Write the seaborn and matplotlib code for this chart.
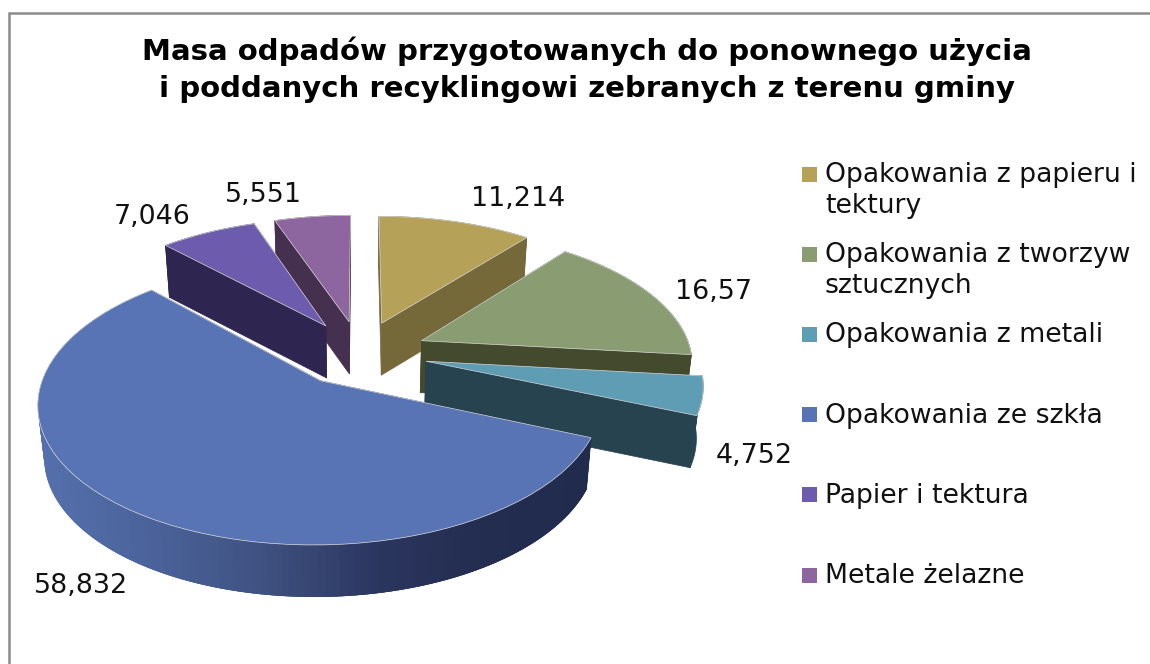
import numpy as np
import seaborn as sns
import matplotlib.pyplot as plt
import matplotlib.transforms as mtransforms
from matplotlib.patches import Rectangle

# dane z wykresu
categories = ["Opakowania z papieru i\ntektury", "Opakowania z tworzyw\nsztucznych", "Opakowania z metali",
              "Opakowania ze szkła", "Papier i tektura", "Metale żelazne"]
values = [11.214, 16.57, 4.752, 58.832, 7.046, 5.551]
value_labels = ["11,214", "16,57", "4,752", "58,832", "7,046", "5,551"]
title = "Masa odpadów przygotowanych do ponownego użycia\ni poddanych recyklingowi zebranych z terenu gminy"

top_colors = ["#B5A158", "#8A9C72", "#5F9DB5", "#5874B4", "#6D5BAD", "#8D669F"]
side_colors = ["#75693A", "#434A2E", "#26434F", "#2A3763", "#2E2650", "#45304F"]
blue_side = ["#5470AC", "#4A629A", "#3F5180", "#2B3660", "#232D50", "#212B4E"]

label_xy = [(518, 199), (713, 292), (754, 456), (81, 586), (152, 217), (263, 195)]

# geometria "3D"
EXPLODE = 0.25
CX, CY = 360, 353
F, HF, D = 1825, 884, 6.76
DEPTH = 52
SHRINK = 0.98  # dol bryly lekko zbiega do srodka

sns.set_theme(style="white")
plt.rcParams['font.family'] = ['DejaVu Sans']


def project(x, y):
    d = D + y
    return CX + F * x / d, CY - HF * y / d


def low(x):
    return CX + (x - CX) * SHRINK


class Tilt(mtransforms.Transform):
    input_dims = 2
    output_dims = 2
    has_inverse = False

    def transform_non_affine(self, values):
        xy = np.asarray(values)
        px, py = project(xy[:, 0], xy[:, 1])
        return np.column_stack([px, py])


fig = plt.figure(figsize=(11.5, 6.64), dpi=100)
ax = fig.add_axes([0, 0, 1, 1])

wedges, _ = ax.pie(values, explode=[EXPLODE] * len(values), startangle=90, counterclock=False,
                   colors=sns.color_palette(top_colors), wedgeprops=dict(edgecolor="#d8d8d8", linewidth=0.5))
ax.set_aspect('auto')
ax.set_xlim(0, 1150)
ax.set_ylim(664, 0)
tilt = Tilt() + ax.transData

# od tylu do przodu
order = sorted(range(len(wedges)), key=lambda i: -wedges[i].center[1])
z = 2
for i in order:
    w = wedges[i]
    cx0, cy0 = w.center
    th = np.radians(np.linspace(w.theta1, w.theta2, 160))
    ax0, ay0 = project(np.array([cx0]), np.array([cy0]))
    ex, ey = project(cx0 + w.r * np.cos(th), cy0 + w.r * np.sin(th))

    # boki radialne
    for k in [0, -1]:
        ax.fill([ax0[0], ex[k], low(ex[k]), low(ax0[0])], [ay0[0], ey[k], ey[k] + DEPTH, ay0[0] + DEPTH],
                color=side_colors[i], lw=0.5, zorder=z)
    z += 1

    # bok zewnetrzny (szklo z gradientem)
    if i == 3:
        ramp = sns.blend_palette(blue_side, 256)
        for k in range(len(th) - 1):
            t = np.clip((ex[k] - ex.min()) / (ex.max() - ex.min()), 0, 1)
            k2 = min(k + 3, len(th) - 1)
            ax.fill(np.r_[ex[k:k2 + 1], low(ex[k:k2 + 1])[::-1]], np.r_[ey[k:k2 + 1], ey[k:k2 + 1][::-1] + DEPTH],
                    facecolor=ramp[int(t * 255)], edgecolor='none', zorder=z)
    else:
        ax.fill(np.r_[ex, low(ex)[::-1]], np.r_[ey, ey[::-1] + DEPTH], color=side_colors[i], lw=0.5, zorder=z)
    z += 1

    w.set_transform(tilt)
    w.set_zorder(z)
    z += 1

# etykiety wartosci
for txt, (x, y) in zip(value_labels, label_xy):
    ax.text(x, y, txt, ha='center', va='center', fontsize=19.4, color='#111111', zorder=50)

ax.text(587, 69.5, title, ha='center', va='center', fontsize=21, fontweight='bold',
        linespacing=1.42, color='black', zorder=50)

# legenda
for i, name in enumerate(categories):
    yc = 174 + i * 80.2
    ax.add_patch(Rectangle((802, yc - 7.5), 15, 15, facecolor=top_colors[i], edgecolor='none', zorder=50))
    ax.text(825, yc - 12, name, ha='left', va='top', fontsize=19.2, linespacing=1.25, color='#111111', zorder=50)

# ramka
ax.plot([9, 9, 1150], [664, 13, 13], color='#8c8c8c', lw=1.8, zorder=60, solid_joinstyle='miter')

sns.despine(ax=ax, left=True, bottom=True)
fig.savefig("out.png", dpi=100)
